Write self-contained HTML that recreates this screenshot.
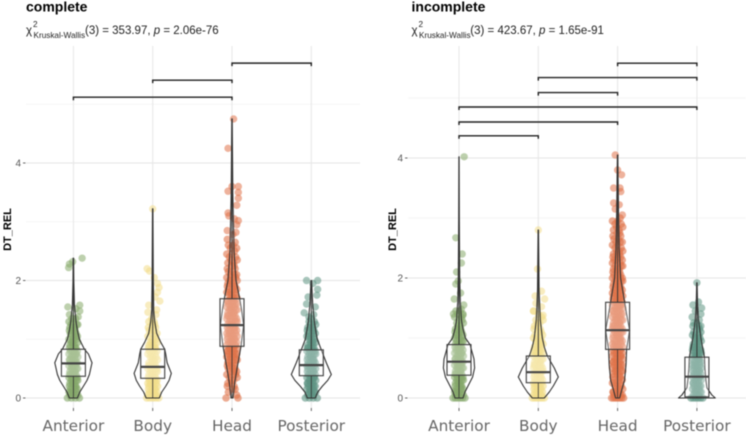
<!DOCTYPE html>
<html lang="en">
<head>
<meta charset="utf-8">
<title>DT_REL by region</title>
<style>
html,body{margin:0;padding:0;background:#fff;width:746px;height:436px;overflow:hidden}
svg{display:block;filter:blur(.5px)}
text{font-family:"Liberation Sans",sans-serif}
.title{font-size:14px;font-weight:700;fill:#000}
.sub{font-size:11.5px;fill:#222}
.subsmall{font-size:8.2px;fill:#222}
.ylab{font-size:11px;font-weight:700;fill:#000}
.ytick{font-size:10px;fill:#555}
.xtick{font-family:"DejaVu Sans",sans-serif;font-size:15.3px;fill:#666}
</style>
</head>
<body>
<svg id="chart" xmlns="http://www.w3.org/2000/svg" width="746" height="436" viewBox="0 0 746 436">
  <g id="plot-left"></g>
  <g id="plot-right"></g>

  <text class="title" x="26" y="11.5">complete</text>
  <g>
    <text class="sub" x="26" y="34">χ</text>
    <text class="subsmall" x="33" y="27">2</text>
    <text class="subsmall" x="33.5" y="38">Kruskal-Wallis</text>
    <text class="sub" x="85" y="34">(3) = 353.97, <tspan font-style="italic">p</tspan> = 2.06e-76</text>
  </g>
  <text class="ylab" transform="translate(11,229.5) rotate(-90)" text-anchor="middle">DT_REL</text>

  <text class="title" x="411.5" y="11.5">incomplete</text>
  <g>
    <text class="sub" x="411.5" y="34">χ</text>
    <text class="subsmall" x="418.5" y="27">2</text>
    <text class="subsmall" x="419" y="38">Kruskal-Wallis</text>
    <text class="sub" x="470.3" y="34">(3) = 423.67, <tspan font-style="italic">p</tspan> = 1.65e-91</text>
  </g>
  <text class="ylab" transform="translate(396,229.5) rotate(-90)" text-anchor="middle">DT_REL</text>
</svg>
<script>
// ---------- shared data ----------
var categories = ["Anterior", "Body", "Head", "Posterior"];
var seriesColors = ["#86a96a", "#f2dd8b", "#e0734a", "#5f9583"];
var yTickValues = [0, 2, 4];
var yTickLabels = ["0", "2", "4"];
var yMinorValues = [1, 3, 5];
var jitterCycle = [-.8,.3,-.2,1,-.5,.7,0,-1,.5,-.3,.9,-.7,.15,.6,-.9,.4,-.1];
var binLevels = [0,.05,.1,.15,.2,.25,.3,.35,.4,.45,.5,.55,.6,.65,.7,.75,.8,.85,.9,.95,1,1.05,1.1,1.15,1.2,1.25,1.3,1.35,1.4,1.45,1.5,1.55,1.6,1.65,1.7,1.75,1.8,1.85,1.9,1.95,2,2.05,2.1,2.15,2.2,2.25,2.3,2.35,2.4,2.45,2.5,2.55,2.6,2.65,2.7,2.75,2.8,2.85,2.9,2.95,3];

// ---------- complete panel ----------
var leftQ1 = [0.37, 0.335, 0.88, 0.38];
var leftMedian = [0.59, 0.53, 1.24, 0.56];
var leftQ3 = [0.83, 0.83, 1.69, 0.82];
var leftMin = [0, 0, 0, 0];
var leftMax = [2.38, 3.22, 4.75, 2.0];

var leftCounts0 = [4,4,4,4,4,4,4,4,4,4,4,4,4,4,4,4,4,3,3,3,3,3,3,3,3,3,2,2];
var leftCounts1 = [5,4,4,4,4,4,4,4,4,4,4,4,3,3,3,3,3,3,3,3,2,2,2,2,2,2,2,1];
var leftCounts2 = [2,1,1,2,2,2,2,2,3,3,3,3,3,3,4,4,4,4,4,4,4,4,4,4,4,4,4,4,4,4,4,4,4,4,3,3,3,3,3,3,3,3,3,2,2,2,2,2,2,2,1,2,2,1,1];
var leftCounts3 = [4,4,4,4,4,4,4,4,4,4,4,4,4,4,4,4,4,4,3,3,3,3,3,3,3,2,2,1];

var leftSparse0 = [[2.38,.11],[2.32,-.01],[2.28,-.05],[2.22,-.06],[1.58,.08],[1.55,-.07],[1.52,.03],[1.48,.08],[1.42,-.05],[1.38,.06]];
var leftSparse1 = [[3.22,0],[2.2,-.07],[2.16,-.04],[2.05,.02],[1.95,.06],[1.88,.08],[1.8,.06],[1.72,.03],[1.65,.09],[1.58,-.05],[1.5,.05],[1.46,-.06],[1.42,.04]];
var leftSparse2 = [[4.75,.02],[4.25,-.05],[3.6,0],[3.6,.08],[3.52,-.05],[3.5,.08],[3.4,.08],[3.28,.06],[3.15,-.05],[3.1,-.04],[3.05,.03],[3.02,.08],[2.95,.06],[2.85,-.06],[2.82,.05],[2.78,.01]];
var leftSparse3 = [[2.0,-.06],[2.0,.08],[1.95,.02],[1.85,.08],[1.75,.07],[1.72,-.04],[1.6,-.06],[1.55,.05],[1.45,-.09],[1.42,.03],[1.38,-.03]];

var leftViolinLevels0 = [0,.1,.2,.3,.4,.6,.75,.83,1,1.15,1.3,1.6,2,2.38];
var leftViolinDensity0 = [.2,.32,.5,.68,.8,.93,.75,.55,.3,.2,.13,.05,.02,.01];
var leftViolinLevels1 = [0,.1,.2,.3,.42,.6,.75,.83,.95,1.1,1.3,1.5,2,2.6,3.22];
var leftViolinDensity1 = [.33,.45,.65,.82,.93,.72,.65,.6,.4,.2,.1,.05,.03,.02,.01];
var leftViolinLevels2 = [0,.25,.5,.88,1.24,1.5,1.7,2,2.5,3,3.5,4.75];
var leftViolinDensity2 = [.05,.13,.25,.45,.58,.48,.38,.2,.1,.07,.04,.01];
var leftViolinLevels3 = [0,.1,.2,.3,.4,.6,.82,1,1.15,1.3,1.6,2];
var leftViolinDensity3 = [.2,.32,.55,.82,1,.75,.5,.3,.22,.15,.07,.015];

var leftBrackets = [[0,2,5.12],[1,2,5.41],[2,3,5.70]];

// ---------- incomplete panel ----------
var rightQ1 = [0.38, 0.255, 0.81, 0.02];
var rightMedian = [0.605, 0.43, 1.13, 0.355];
var rightQ3 = [0.89, 0.70, 1.595, 0.68];
var rightMin = [0, 0, 0, 0];
var rightMax = [4.02, 2.8, 4.05, 1.92];

var rightCounts0 = [6,4,4,4,4,4,4,4,4,4,4,4,4,4,4,4,4,4,3,3,3,3,3,3,2,2,2,2,2,2];
var rightCounts1 = [6,4,4,4,4,4,4,4,4,4,4,4,4,4,3,3,3,3,3,3,3,2,2,2,2,2,2,1,1,1];
var rightCounts2 = [7,4,4,3,3,3,3,3,3,4,4,4,4,4,4,4,4,4,4,4,4,4,4,4,4,4,4,4,4,4,4,4,4,4,4,4,4,4,4,4,4,3,3,3,3,3,3,3,3,3,2,2,3,2,2,2,2,2,2,2,1];
var rightCounts3 = [6,4,4,4,4,4,4,4,4,4,4,4,4,4,4,4,4,4,3,3,3,3,2,2,2,1];

var rightSparse0 = [[4.02,.065],[2.67,-.04],[2.4,.04],[2.25,.03],[2.1,-.03],[1.95,-.01],[1.9,-.04],[1.75,.02],[1.65,-.06],[1.55,.06],[1.48,.03],[1.4,-.07],[1.38,.05]];
var rightSparse1 = [[2.8,0],[2.15,-.01],[1.78,.04],[1.7,-.04],[1.65,.08],[1.58,-.03],[1.52,.04],[1.45,-.06],[1.38,.06]];
var rightSparse2 = [[4.05,-.03],[3.8,.0],[3.72,.05],[3.5,-.05],[3.5,.03],[3.44,.04],[3.25,-.05],[3.22,.02],[3.15,-.03],[3.05,.06]];
var rightSparse3 = [[1.92,.0],[1.6,.02],[1.55,-.05],[1.5,.06],[1.45,-.02],[1.4,.05],[1.35,-.06],[1.3,.03],[1.25,-.04],[1.2,.05]];

var rightViolinLevels0 = [0,.1,.2,.35,.5,.65,.89,1,1.15,1.3,1.6,2,3,4.02];
var rightViolinDensity0 = [.2,.3,.45,.68,.78,.75,.55,.32,.2,.12,.065,.035,.015,.005];
var rightViolinLevels1 = [0,.1,.2,.35,.5,.7,.85,1,1.3,1.8,2.8];
var rightViolinDensity1 = [.3,.55,.75,1,.8,.45,.3,.2,.1,.04,.01];
var rightViolinLevels2 = [0,.15,.3,.55,.81,1.13,1.4,1.6,2,2.5,3,4.05];
var rightViolinDensity2 = [.1,.22,.35,.42,.45,.6,.45,.35,.15,.08,.05,.01];
var rightViolinLevels3 = [0,.05,.17,.3,.5,.68,.85,1,1.3,1.6,1.92];
var rightViolinDensity3 = [.92,.75,.5,.45,.4,.38,.28,.2,.08,.03,.01];

var rightBrackets = [[0,1,4.37],[0,2,4.6],[0,3,4.85],[1,2,5.09],[1,3,5.34],[2,3,5.58]];

// ---------- axis functions ----------
var SVGNS = "http://www.w3.org/2000/svg";
function make(tag, parent, attrs) {
  var el = document.createElementNS(SVGNS, tag);
  for (var k in attrs) el.setAttribute(k, attrs[k]);
  parent.appendChild(el);
  return el;
}

function drawPanel(cfg) {
  var g = cfg.root;
  var xPos = function (i) { return cfg.x0 + cfg.xStep * i; };
  var yPos = function (v) { return 398 - cfg.yUnit * v; };
  var wScale = 20;

  yMinorValues.forEach(function (v) {
    var grid = make("line", g, {x1: cfg.left, x2: cfg.right, y1: yPos(v), y2: yPos(v), stroke: "#f2f2f2", "stroke-width": 0.8});
    
    
  });
  yTickValues.forEach(function (v, n) {
    var grid = make("line", g, {x1: cfg.left, x2: cfg.right, y1: yPos(v), y2: yPos(v), stroke: "#e8e8e8", "stroke-width": 1.2});
    
    
    var tick = make("line", g, {x1: cfg.left - 3, x2: cfg.left - 0.5, y1: yPos(v), y2: yPos(v), stroke: "#555", "stroke-width": 0.9});
    
    
    var lab = make("text", g, {x: cfg.left - 5, y: yPos(v) + 3.5, "text-anchor": "end", "class": "ytick"});
    lab.textContent = yTickLabels[n];
    
    
  });

  categories.forEach(function (name, c) {
    var x = xPos(c);
    var vg = make("line", g, {x1: x, x2: x, y1: 46, y2: 408, stroke: "#e8e8e8", "stroke-width": 1.1});
    
    
    var tick = make("line", g, {x1: x, x2: x, y1: 408, y2: 411, stroke: "#555", "stroke-width": 0.9});
    
    
    var lab = make("text", g, {x: x, y: 431, "text-anchor": "middle", "class": "xtick"});
    lab.textContent = name;
    
    
  });

  categories.forEach(function (name, c) {
    var x = xPos(c), color = seriesColors[c], key = name.toLowerCase();
    var sg = make("g", g, {});
    
    
    var jit = c * 5;

    cfg.counts[c].forEach(function (count, b) {
      for (var j = 0; j < count; j++) {
        var off = b === 0 ? (count === 1 ? 0 : (j / (count - 1) * 2 - 1) * 0.075) : jitterCycle[jit++ % jitterCycle.length] * cfg.spread[c];
        var dot = make("circle", sg, {cx: x + off * cfg.xStep, cy: yPos(binLevels[b]), r: 3.8, fill: color, "fill-opacity": 0.6});
        
        
      }
    });
    cfg.sparse[c].forEach(function (p) {
      var dot = make("circle", sg, {cx: x + p[1] * cfg.xStep, cy: yPos(p[0]), r: 3.7, fill: color, "fill-opacity": 0.55});
      
      
    });

    var rightSide = [], leftSide = [];
    cfg.vLevels[c].forEach(function (lv, n) {
      var w = cfg.vDensity[c][n] * wScale;
      rightSide.push((x + w) + "," + yPos(lv));
      leftSide.unshift((x - w) + "," + yPos(lv));
    });
    var violin = make("path", sg, {d: "M" + leftSide.concat(rightSide).join("L") + "Z", fill: "none", stroke: "#333", "stroke-width": 1.1, "stroke-linejoin": "round"});
    
    

    var w1 = make("line", sg, {x1: x, x2: x, y1: yPos(cfg.max[c]), y2: yPos(cfg.q3[c]), stroke: "#333", "stroke-width": 1});
    
    
    var w2 = make("line", sg, {x1: x, x2: x, y1: yPos(cfg.q1[c]), y2: yPos(cfg.min[c]), stroke: "#333", "stroke-width": 0.8});
    
    

    var box = make("rect", sg, {x: x - 12, y: yPos(cfg.q3[c]), width: 24, height: yPos(cfg.q1[c]) - yPos(cfg.q3[c]), fill: "#fff", "fill-opacity": 0.28, stroke: "#3c3c3c", "stroke-width": 1.1});
    
    
    var med = make("line", sg, {x1: x - 12, x2: x + 12, y1: yPos(cfg.med[c]), y2: yPos(cfg.med[c]), stroke: "#444", "stroke-width": 2.2});
    
    
  });

  cfg.brackets.forEach(function (b) {
    var x1 = xPos(b[0]), x2 = xPos(b[1]), y = yPos(b[2]);
    var br = make("path", g, {d: "M" + x1 + "," + (y + 3) + "V" + y + "H" + x2 + "V" + (y + 3), fill: "none", stroke: "#222", "stroke-width": 1.4});
    
    
  });
}

drawPanel({
  root: document.getElementById("plot-left"),
  left: 26, right: 360, x0: 73.4, xStep: 79.3, yUnit: 58.75,
  q1: leftQ1, med: leftMedian, q3: leftQ3, min: leftMin, max: leftMax,
  counts: [leftCounts0, leftCounts1, leftCounts2, leftCounts3],
  sparse: [leftSparse0, leftSparse1, leftSparse2, leftSparse3],
  vLevels: [leftViolinLevels0, leftViolinLevels1, leftViolinLevels2, leftViolinLevels3],
  vDensity: [leftViolinDensity0, leftViolinDensity1, leftViolinDensity2, leftViolinDensity3],
  spread: [.055, .06, .065, .055],
  brackets: leftBrackets
});
drawPanel({
  root: document.getElementById("plot-right"),
  left: 408, right: 746, x0: 459, xStep: 79.3, yUnit: 60,
  q1: rightQ1, med: rightMedian, q3: rightQ3, min: rightMin, max: rightMax,
  counts: [rightCounts0, rightCounts1, rightCounts2, rightCounts3],
  sparse: [rightSparse0, rightSparse1, rightSparse2, rightSparse3],
  vLevels: [rightViolinLevels0, rightViolinLevels1, rightViolinLevels2, rightViolinLevels3],
  vDensity: [rightViolinDensity0, rightViolinDensity1, rightViolinDensity2, rightViolinDensity3],
  spread: [.055, .06, .065, .055],
  brackets: rightBrackets
});
</script>
</body>
</html>
